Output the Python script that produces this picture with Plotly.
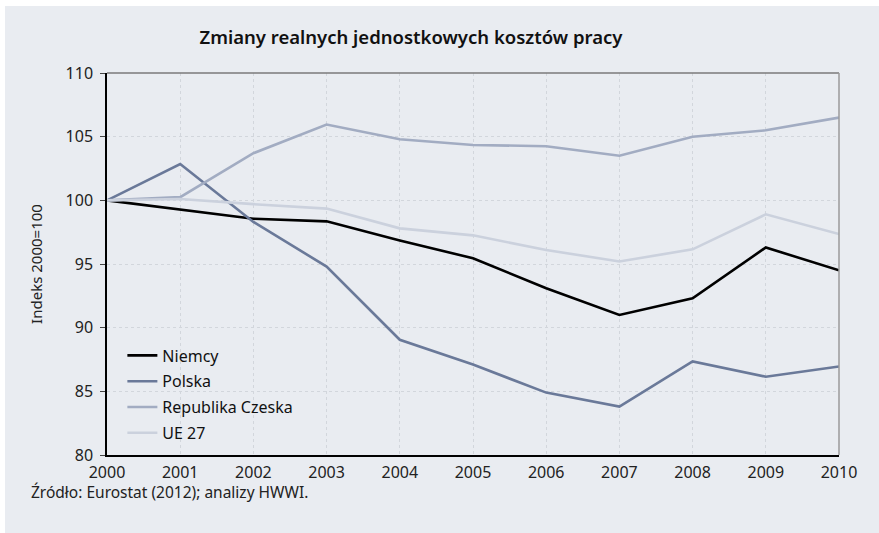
import plotly.graph_objects as go

# dane
lata = [2000, 2001, 2002, 2003, 2004, 2005, 2006, 2007, 2008, 2009, 2010]
niemcy = [100.0, 99.3, 98.55, 98.35, 96.85, 95.45, 93.1, 91.0, 92.3, 96.3, 94.5]
polska = [100.0, 102.85, 98.3, 94.8, 89.05, 87.1, 84.9, 83.8, 87.35, 86.15, 86.95]
czechy = [100.0, 100.25, 103.7, 105.95, 104.8, 104.35, 104.25, 103.5, 105.0, 105.5, 106.5]
ue27 = [100.0, 100.1, 99.7, 99.35, 97.8, 97.25, 96.1, 95.2, 96.15, 98.9, 97.35]

serie = [
    ("Niemcy", niemcy, "#000000"),
    ("Polska", polska, "#6a7999"),
    ("Republika Czeska", czechy, "#a2acc2"),
    ("UE 27", ue27, "#cbd1dd"),
]

TLO = "#e9ecf1"
FONT = "Noto Sans"

fig = go.Figure()
for nazwa, wartosci, kolor in serie:
    fig.add_trace(
        go.Scatter(
            x=lata,
            y=wartosci,
            name=nazwa,
            legendgroup=nazwa,
            mode="lines",
            line=dict(color=kolor, width=2.6),
        )
    )

W, H = 879, 533
L, R, T, B = 107, 40, 73, 78
pw, ph = W - L - R, H - T - B

fig.update_layout(
    width=W,
    height=H,
    margin=dict(l=L, r=R, t=T, b=B),
    paper_bgcolor=TLO,
    plot_bgcolor=TLO,
    font=dict(family=FONT, size=16, color="#222222"),
    title=dict(
        text="Zmiany realnych jednostkowych kosztów pracy",
        x=411 / W,
        xanchor="center",
        y=1 - 38 / H,
        yanchor="middle",
        font=dict(family=FONT, size=18.5, color="#111111", weight=600),
    ),
    showlegend=True,
    legend=dict(
        x=0.021,
        y=0.305,
        xanchor="left",
        yanchor="top",
        bgcolor="rgba(0,0,0,0)",
        font=dict(family=FONT, size=16, color="#111111"),
        itemwidth=30,
        tracegroupgap=2,
    ),
)

fig.update_xaxes(
    range=[2000, 2010],
    tickvals=lata,
    ticktext=[str(r) for r in lata],
    showgrid=True,
    gridcolor="#d2d6dc",
    griddash="dot",
    gridwidth=1,
    showline=True,
    linecolor="#000000",
    linewidth=1.5,
    ticks="",
    ticklabelstandoff=2,
    tickfont=dict(size=16),
    zeroline=False,
)
fig.update_yaxes(
    range=[80, 110],
    dtick=5,
    showgrid=True,
    gridcolor="#d2d6dc",
    griddash="dot",
    gridwidth=1,
    showline=True,
    linecolor="#000000",
    linewidth=1.5,
    ticks="outside",
    ticklen=5,
    tickcolor="#444444",
    ticklabelstandoff=4,
    tickfont=dict(size=16),
    zeroline=False,
    title=dict(text="Indeks 2000=100", font=dict(size=15), standoff=19),
)

# ramka górna i prawa (szara)
fig.add_shape(type="line", xref="paper", yref="paper", x0=0, x1=1, y0=1, y1=1,
              line=dict(color="#7a7a7a", width=1.5))
fig.add_shape(type="line", xref="paper", yref="paper", x0=1, x1=1, y0=0, y1=1,
              line=dict(color="#9a9a9a", width=1.5))

# białe marginesy zdjęcia (góra i lewa krawędź)
fig.add_shape(type="rect", xref="paper", yref="paper", layer="below",
              x0=-L / pw, x1=1 + R / pw, y0=1 + (T - 6) / ph, y1=1 + T / ph,
              fillcolor="#ffffff", line_width=0)
fig.add_shape(type="rect", xref="paper", yref="paper", layer="below",
              x0=-L / pw, x1=-(L - 5) / pw, y0=-B / ph, y1=1 + T / ph,
              fillcolor="#ffffff", line_width=0)

fig.add_annotation(
    text="Źródło: Eurostat (2012); analizy HWWI.",
    xref="paper",
    yref="paper",
    x=-(L - 29) / pw,
    y=-(492 - (T + ph)) / ph,
    xanchor="left",
    yanchor="middle",
    showarrow=False,
    font=dict(family=FONT, size=15.5, color="#222222"),
)

fig.write_html(
    "out.html",
    config={"displayModeBar": False},
    post_script=(
        "document.body.style.margin='0';"
        f"document.body.style.background='{TLO}';"
        f"document.documentElement.style.background='{TLO}';"
    ),
)
